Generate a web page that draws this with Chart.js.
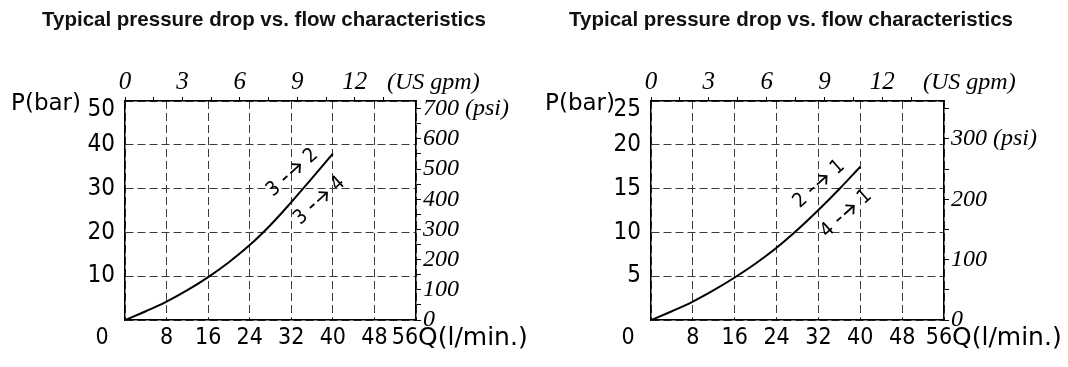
<!DOCTYPE html>
<html lang="en">
<head>
    <meta charset="UTF-8">
    <title>Typical pressure drop vs. flow characteristics</title>
    <script src="https://cdn.jsdelivr.net/npm/chart.js@4.4.1/dist/chart.umd.min.js"></script>
    <style>
        body {
            margin: 0;
            background: #fff;
        }
        .panel {
            position: absolute;
            top: 0;
            width: 534px;
            height: 367px;
        }
        .panel canvas {
            position: absolute;
            left: 0;
            top: 0;
        }
        .title {
            position: absolute;
            top: 7px;
            width: 534px;
            text-align: center;
            font: bold 20.5px "Liberation Sans", Arial, sans-serif;
            color: #111;
            white-space: nowrap;
        }
    </style>
</head>
<body>
    <div class="panel" style="left:0">
        <canvas id="chartA" width="534" height="367"></canvas>
        <div class="title" style="left:-3px">Typical pressure drop vs. flow characteristics</div>
    </div>
    <div class="panel" style="left:534px">
        <canvas id="chartB" width="534" height="367"></canvas>
        <div class="title" style="left:-10px">Typical pressure drop vs. flow characteristics</div>
    </div>

    <script>
        // flow (l/min) and pressure drop (bar)
        const flowLpm = [0, 4, 8, 12, 16, 20, 24, 28, 32, 36, 40];
        const dropA = [0, 2.0, 4.2, 6.8, 9.8, 13.2, 17.1, 21.7, 26.9, 32.4, 38.0];
        const dropB = [0, 1.0, 2.1, 3.4, 4.85, 6.45, 8.25, 10.3, 12.55, 14.95, 17.5];

        // axis ticks
        const lpmTicks = [0, 8, 16, 24, 32, 40, 48, 56];
        const gpmTicks = [0, 1.5, 3, 4.5, 6, 7.5, 9, 10.5, 12, 13.5];
        const barTicksA = [0, 10, 20, 30, 40, 50];
        const barTicksB = [0, 5, 10, 15, 20, 25];
        const psiTicksA = [0, 50, 100, 150, 200, 250, 300, 350, 400, 450, 500, 550, 600, 650, 700];
        const psiTicksB = [0, 50, 100, 150, 200, 250, 300, 350];

        // port change notes along the curve (l/min, bar)
        const notesA = [
            { from: '3', to: '2', x: 32.1, y: 33.8 },
            { from: '3', to: '4', x: 37.3, y: 27.4 }
        ];
        const notesB = [
            { from: '2', to: '1', x: 32.0, y: 15.6 },
            { from: '4', to: '1', x: 37.2, y: 12.2 }
        ];

        const SANS = '"DejaVu Sans Condensed", "DejaVu Sans", sans-serif';
        const SERIF = '"Liberation Serif", "Times New Roman", serif';

        const extras = {
            id: 'extras',
            afterDraw(chart, args, o) {
                const { ctx, chartArea, scales } = chart;
                const labelY = chartArea.bottom + 18;
                const qx = chartArea.right + o.qGap;
                ctx.save();
                ctx.fillStyle = '#000';

                // P(bar) + top value of the bar axis
                ctx.font = '23px "DejaVu Sans", sans-serif';
                ctx.textAlign = 'right';
                ctx.textBaseline = 'middle';
                ctx.fillText('P(bar)', 81, chartArea.top + 3);
                ctx.font = '24px ' + SANS;
                ctx.fillText(String(scales.y.max), chartArea.left - 10, chartArea.top + 9);

                // origin 0, last flow value and Q unit on the bottom line
                ctx.font = '23px ' + SANS;
                ctx.textAlign = 'center';
                ctx.fillText(String(scales.x.max), qx - 13, labelY);
                ctx.fillText('0', chartArea.left - 23, labelY);
                ctx.font = '25px "DejaVu Sans", sans-serif';
                ctx.textAlign = 'left';
                ctx.fillText('Q(l/min.)', qx, labelY);

                // US gpm unit on the top line
                ctx.font = 'italic 24px ' + SERIF;
                ctx.fillText('(US gpm)', chartArea.right + o.gpmGap, chartArea.top - 18);

                // notes: "a - -> b" written along the curve
                ctx.font = '20px ' + SANS;
                ctx.textAlign = 'center';
                ctx.lineWidth = 1.8;
                ctx.strokeStyle = '#000';
                o.notes.forEach(n => {
                    ctx.save();
                    ctx.translate(scales.x.getPixelForValue(n.x), scales.y.getPixelForValue(n.y));
                    ctx.rotate(-42 * Math.PI / 180);
                    ctx.fillText(n.from, -25, 1);
                    ctx.fillText(n.to, 25, 1);
                    ctx.beginPath();
                    ctx.moveTo(-12, 0);
                    ctx.lineTo(-6, 0);
                    ctx.moveTo(-2, 0);
                    ctx.lineTo(11, 0);
                    ctx.moveTo(5, -6);
                    ctx.lineTo(11, 0);
                    ctx.lineTo(5, 6);
                    ctx.stroke();
                    ctx.restore();
                });
                ctx.restore();
            }
        };

        function makeChart(id, drop, barTicks, psiTicks, psiUnitAt, notes, sizes) {
            const barMax = barTicks[barTicks.length - 1];
            new Chart(document.getElementById(id), {
                type: 'line',
                data: {
                    datasets: [{
                        data: flowLpm.map((q, i) => ({ x: q, y: drop[i] })),
                        borderColor: '#000',
                        borderWidth: 2,
                        pointRadius: 0,
                        tension: 0.4,
                        fill: false,
                        xAxisID: 'x',
                        yAxisID: 'y'
                    }]
                },
                options: {
                    responsive: false,
                    animation: false,
                    layout: { padding: 0 },
                    plugins: {
                        legend: { display: false },
                        tooltip: { enabled: false },
                        extras: { notes: notes, qGap: sizes.qGap, gpmGap: sizes.gpmGap }
                    },
                    scales: {
                        x: {
                            type: 'linear',
                            position: 'bottom',
                            min: 0,
                            max: 56,
                            afterBuildTicks: s => { s.ticks = lpmTicks.map(v => ({ value: v })); },
                            afterFit: s => { s.height = 47; },
                            ticks: {
                                callback: v => (v === 0 || v === 56) ? '' : v,
                                color: '#000',
                                font: { family: SANS, size: 23 },
                                padding: 4,
                                maxRotation: 0,
                                autoSkip: false
                            },
                            grid: { color: '#3a3a3a', lineWidth: 1, drawTicks: false },
                            border: { display: true, color: '#000', width: 1.5, dash: [8, 4] }
                        },
                        y: {
                            type: 'linear',
                            position: 'left',
                            min: 0,
                            max: barMax,
                            afterBuildTicks: s => { s.ticks = barTicks.map(v => ({ value: v })); },
                            afterFit: s => { s.width = sizes.left; },
                            ticks: {
                                callback: v => (v === 0 || v === barMax) ? '' : v,
                                color: '#000',
                                font: { family: SANS, size: 24 },
                                padding: 10
                            },
                            grid: { color: '#3a3a3a', lineWidth: 1, drawTicks: false },
                            border: { display: true, color: '#000', width: 1.5, dash: [8, 4] }
                        },
                        x2: {
                            type: 'linear',
                            position: 'top',
                            min: 0,
                            max: 15.2,
                            afterBuildTicks: s => { s.ticks = gpmTicks.map(v => ({ value: v })); },
                            afterFit: s => { s.height = 101; },
                            ticks: {
                                callback: v => v % 3 === 0 ? v : '',
                                color: '#000',
                                font: { family: SERIF, size: 25, style: 'italic' },
                                padding: 0,
                                maxRotation: 0,
                                autoSkip: false
                            },
                            grid: { drawOnChartArea: false, color: '#000', tickLength: 4 },
                            border: { display: true, color: '#000', width: 1.5 }
                        },
                        y2: {
                            type: 'linear',
                            position: 'right',
                            min: 0,
                            max: barMax * 14.504,
                            afterBuildTicks: s => { s.ticks = psiTicks.map(v => ({ value: v })); },
                            afterFit: s => { s.width = sizes.right; },
                            ticks: {
                                callback: v => v % 100 !== 0 ? '' : (v === psiUnitAt ? v + ' (psi)' : v),
                                color: '#000',
                                font: { family: SERIF, size: 24, style: 'italic' },
                                padding: 2,
                                autoSkip: false
                            },
                            grid: { drawOnChartArea: false, color: '#000', tickLength: 5 },
                            border: { display: true, color: '#000', width: 1.5 }
                        }
                    }
                },
                plugins: [extras]
            });
        }

        makeChart('chartA', dropA, barTicksA, psiTicksA, 700, notesA, { left: 125, right: 118, qGap: 2, gpmGap: -29 });
        makeChart('chartB', dropB, barTicksB, psiTicksB, 300, notesB, { left: 117, right: 124, qGap: 8, gpmGap: -21 });
    </script>
</body>
</html>
